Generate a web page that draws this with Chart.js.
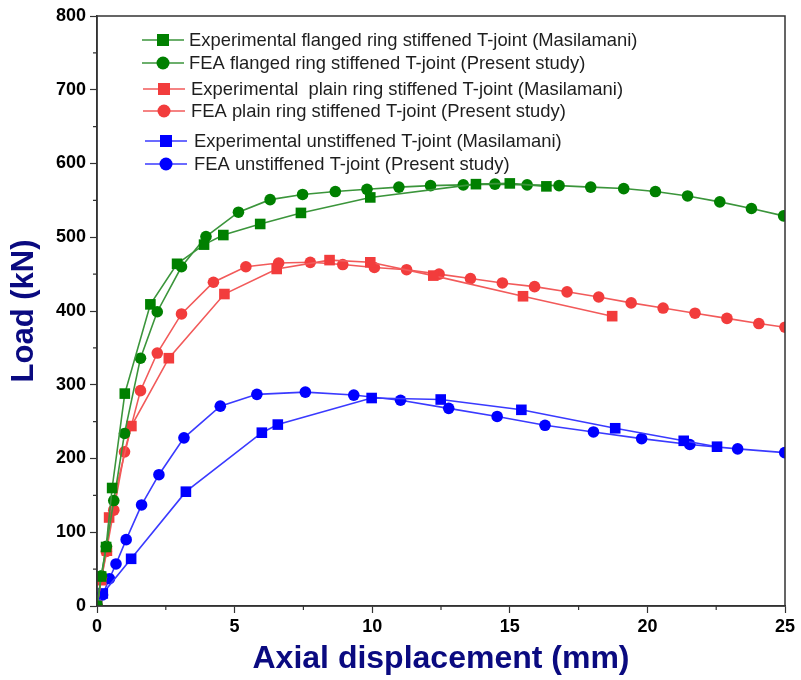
<!DOCTYPE html>
<html>
<head>
<meta charset="utf-8">
<script src="https://cdn.jsdelivr.net/npm/chart.js@4.4.1/dist/chart.umd.min.js"></script>
<style>
  html, body { margin: 0; padding: 0; background: #fff; }
  #wrap { width: 801px; height: 680px; }
</style>
</head>
<body>
<div id="wrap"><canvas id="loadChart" width="801" height="680"></canvas></div>
<script>
// Axial displacement (mm) / load (kN)
const expFlangedX = [0, 0.15, 0.33, 0.55, 1.01, 1.94, 2.91, 3.89, 4.59, 5.93, 7.41, 9.93, 13.77, 15.0, 16.33];
const expFlangedY = [0, 40, 80, 160, 288, 409, 464, 490, 503, 518, 533, 554, 572, 573, 569];

const feaFlangedX = [0, 0.16, 0.34, 0.61, 1.0, 1.58, 2.19, 3.07, 3.96, 5.14, 6.29, 7.47, 8.66, 9.81, 10.97, 12.12, 13.31, 14.46, 15.63, 16.79, 17.94, 19.14, 20.29, 21.46, 22.63, 23.78, 24.95];
const feaFlangedY = [0, 41, 81, 143, 234, 336, 399, 460, 501, 534, 551, 558, 562, 565, 568, 570, 571, 572, 571, 570, 568, 566, 562, 556, 548, 539, 529];

const expPlainX = [0, 0.15, 0.36, 0.44, 1.25, 2.61, 4.63, 6.53, 8.45, 9.93, 12.22, 15.48, 18.72];
const expPlainY = [0, 35, 75, 120, 244, 336, 423, 457, 469, 466, 448, 420, 393];

const feaPlainX = [0, 0.16, 0.34, 0.61, 1.0, 1.58, 2.19, 3.07, 4.23, 5.41, 6.6, 7.75, 8.93, 10.08, 11.25, 12.43, 13.57, 14.73, 15.9, 17.08, 18.23, 19.41, 20.57, 21.73, 22.89, 24.05, 25];
const feaPlainY = [0, 39, 74, 130, 209, 292, 343, 396, 439, 460, 465, 466, 463, 459, 456, 450, 444, 438, 433, 426, 419, 411, 404, 397, 390, 383, 378];

const expUnstiffX = [0, 0.21, 1.24, 3.23, 5.99, 6.57, 9.98, 12.49, 15.42, 18.83, 21.32, 22.53];
const expUnstiffY = [0, 17, 64, 155, 235, 246, 282, 280, 266, 241, 224, 216];

const feaUnstiffX = [0, 0.2, 0.45, 0.69, 1.06, 1.62, 2.25, 3.16, 4.48, 5.81, 7.57, 9.33, 11.03, 12.78, 14.54, 16.28, 18.04, 19.79, 21.54, 23.28, 24.99];
const feaUnstiffY = [0, 15, 37, 57, 90, 137, 178, 228, 271, 287, 290, 286, 279, 268, 257, 245, 236, 227, 219, 213, 208];

const seriesLabels = [
  'Experimental flanged ring stiffened T-joint (Masilamani)',
  'FEA flanged ring stiffened T-joint (Present study)',
  'Experimental  plain ring stiffened T-joint (Masilamani)',
  'FEA plain ring stiffened T-joint (Present study)',
  'Experimental unstiffened T-joint (Masilamani)',
  'FEA unstiffened T-joint (Present study)'
];

const colors = {
  green: '#008000', greenLine: '#3b953b',
  red: '#f23c3c', redLine: '#f25a5a',
  blue: '#0000ff', blueLine: '#3a3aff',
  axis: '#333333',
  title: '#0a0a80'
};

function toPoints(xs, ys) {
  return xs.map((x, i) => ({ x: x, y: ys[i] }));
}

function makeSet(label, xs, ys, fill, line, shape) {
  return {
    label: label,
    data: toPoints(xs, ys),
    borderColor: line,
    backgroundColor: fill,
    borderWidth: 1.6,
    pointStyle: shape,
    pointRadius: shape === 'rect' ? 7.5 : 5.8,
    pointBorderWidth: 0,
    pointBackgroundColor: fill,
    tension: 0,
    clip: 0
  };
}

// legend rows drawn inside the plot, grouped in pairs
const legendRows = [
  { y: 40, x0: 142, x1: 184, mx: 163, tx: 189 },
  { y: 63, x0: 142, x1: 184, mx: 163, tx: 189 },
  { y: 89, x0: 143, x1: 185, mx: 164, tx: 191 },
  { y: 111, x0: 143, x1: 185, mx: 164, tx: 191 },
  { y: 141, x0: 145, x1: 187, mx: 166, tx: 194 },
  { y: 164, x0: 145, x1: 187, mx: 166, tx: 194 }
];

const framePlugin = {
  id: 'frame',
  afterDraw(chart) {
    const { ctx, chartArea: a, scales } = chart;
    ctx.save();
    // minor ticks
    ctx.strokeStyle = colors.axis;
    ctx.lineWidth = 1.2;
    ctx.beginPath();
    for (let v = 2.5; v < 25; v += 5) {
      const px = scales.x.getPixelForValue(v);
      ctx.moveTo(px, a.bottom);
      ctx.lineTo(px, a.bottom + 4);
    }
    for (let v = 50; v < 800; v += 100) {
      const py = scales.y.getPixelForValue(v);
      ctx.moveTo(a.left, py);
      ctx.lineTo(a.left - 4, py);
    }
    ctx.stroke();
    // box
    ctx.lineWidth = 1.5;
    ctx.strokeRect(a.left, a.top, a.right - a.left, a.bottom - a.top);

    // legend
    chart.data.datasets.forEach((ds, i) => {
      const r = legendRows[i];
      ctx.strokeStyle = ds.borderColor;
      ctx.lineWidth = 1.6;
      ctx.beginPath();
      ctx.moveTo(r.x0, r.y);
      ctx.lineTo(r.x1, r.y);
      ctx.stroke();
      ctx.fillStyle = ds.pointBackgroundColor;
      if (ds.pointStyle === 'rect') {
        ctx.fillRect(r.mx - 6, r.y - 6, 12, 12);
      } else {
        ctx.beginPath();
        ctx.arc(r.mx, r.y, 6.5, 0, Math.PI * 2);
        ctx.fill();
      }
      ctx.fillStyle = '#1e1e1e';
      ctx.font = '18.4px "Liberation Sans", Arial, sans-serif';
      ctx.textBaseline = 'middle';
      ctx.textAlign = 'left';
      ctx.fillText(ds.label, r.tx, r.y + 1);
    });
    ctx.restore();
  }
};

const tickFont = { family: '"Liberation Sans", Arial, sans-serif', size: 18, weight: 'bold' };
const titleFont = { family: '"Liberation Sans", Arial, sans-serif', weight: 'bold' };

new Chart(document.getElementById('loadChart'), {
  type: 'line',
  data: {
    datasets: [
      makeSet(seriesLabels[0], expFlangedX, expFlangedY, colors.green, colors.greenLine, 'rect'),
      makeSet(seriesLabels[1], feaFlangedX, feaFlangedY, colors.green, colors.greenLine, 'circle'),
      makeSet(seriesLabels[2], expPlainX, expPlainY, colors.red, colors.redLine, 'rect'),
      makeSet(seriesLabels[3], feaPlainX, feaPlainY, colors.red, colors.redLine, 'circle'),
      makeSet(seriesLabels[4], expUnstiffX, expUnstiffY, colors.blue, colors.blueLine, 'rect'),
      makeSet(seriesLabels[5], feaUnstiffX, feaUnstiffY, colors.blue, colors.blueLine, 'circle')
    ]
  },
  options: {
    responsive: false,
    animation: false,
    layout: {
      padding: { left: 0, right: 16, top: 16, bottom: 0 }
    },
    plugins: {
      legend: { display: false },
      tooltip: { enabled: false }
    },
    scales: {
      x: {
        type: 'linear',
        min: 0,
        max: 25,
        afterFit(scale) { scale.height = 74; },
        border: { display: true, color: colors.axis, width: 1.5 },
        grid: {
          drawOnChartArea: false,
          tickLength: 7,
          tickWidth: 1.2,
          tickColor: colors.axis
        },
        ticks: {
          stepSize: 5,
          color: '#000',
          font: tickFont,
          padding: 3,
          maxRotation: 0
        },
        title: {
          display: true,
          text: 'Axial displacement (mm)',
          color: colors.title,
          font: Object.assign({ size: 32 }, titleFont),
          padding: { top: 0, bottom: 2 }
        }
      },
      y: {
        min: 0,
        max: 800,
        afterFit(scale) { scale.width = 97; },
        border: { display: true, color: colors.axis, width: 1.5 },
        grid: {
          drawOnChartArea: false,
          tickLength: 7,
          tickWidth: 1.2,
          tickColor: colors.axis
        },
        ticks: {
          stepSize: 100,
          color: '#000',
          font: tickFont,
          padding: 4
        },
        title: {
          display: true,
          text: 'Load (kN)',
          color: colors.title,
          font: Object.assign({ size: 31 }, titleFont),
          padding: { top: 6, bottom: 0 }
        }
      }
    }
  },
  plugins: [framePlugin]
});
</script>
</body>
</html>
